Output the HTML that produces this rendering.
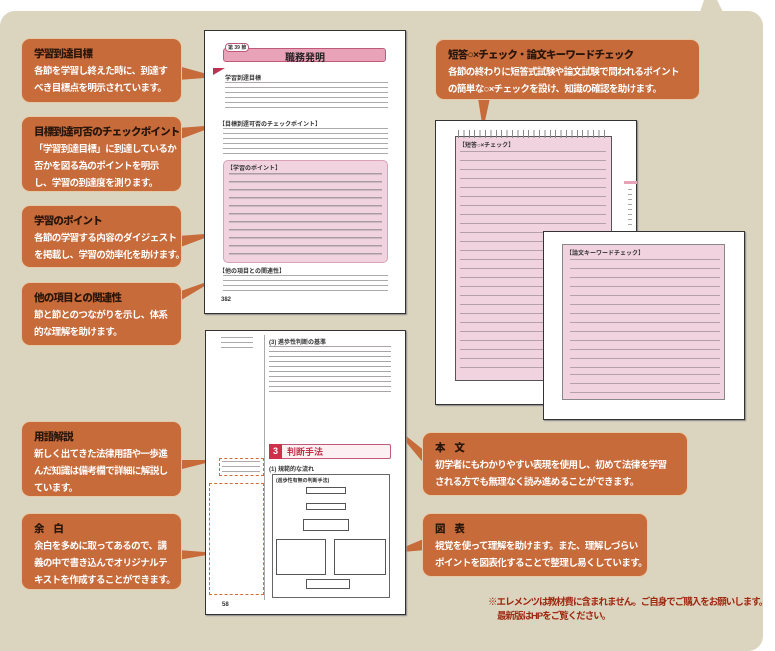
<!DOCTYPE html>
<html><head><meta charset="utf-8">
<style>
*{margin:0;padding:0;box-sizing:border-box}
body{width:775px;height:634px;position:relative;overflow:hidden;background:#fff;font-family:"Liberation Sans","Noto Sans CJK JP",sans-serif}
.panel{position:absolute;left:0;top:11px;width:763px;height:640px;background:#dbd5c0;border-radius:15px 15px 15px 0}
.box{position:absolute;background:#c76b3b;border-radius:9px;border:1px solid #e6c9a6;padding:8px 4px 0 12px;color:#fff;font-size:9.5px;letter-spacing:-0.6px;line-height:17px;font-weight:bold;white-space:nowrap;overflow:hidden}
.box b{display:block;color:#2a160a;font-size:10.5px;letter-spacing:-0.8px;line-height:15px;margin-bottom:1px}
.page{position:absolute;background:#fff;border:1px solid #333;box-shadow:1px 1px 1px #888}
.tx{position:absolute;background:repeating-linear-gradient(to bottom,#9a9595 0,#9a9595 1px,transparent 1px,transparent 5px);opacity:.8}
.txs{position:absolute;background:repeating-linear-gradient(to bottom,#8a8585 0,#8a8585 1.5px,transparent 1.5px,transparent 8px);opacity:.7}
.pink{position:absolute;background:#f1d3e0}
.dl{position:absolute;background:repeating-linear-gradient(to bottom,#9a8a90 0,#9a8a90 1px,transparent 1px,transparent 9px);opacity:.7}
.small{position:absolute;font-size:6px;font-weight:bold;color:#333;white-space:nowrap}
.note{position:absolute;color:#a02810;font-size:9.5px;font-weight:bold;letter-spacing:-1px;white-space:nowrap}
</style></head><body>
<div class="panel"></div>
<svg style="position:absolute;left:0;top:0" width="775" height="634">
<polygon points="700,12 704,0 717,0 723,12" fill="#dbd5c0"/>
<g fill="#c76b3b">
<polygon points="178,66 178,80 218,77"/>
<polygon points="178,128 178,140 218,125"/>
<polygon points="178,236 178,248 218,233"/>
<polygon points="178,292 178,302 218,278"/>
<polygon points="178,460 178,470 218,460"/>
<polygon points="178,550 178,560 218,553"/>
<polygon points="426,452 426,466 390,423"/>
<polygon points="426,538 426,550 390,553"/>
<polygon points="478,98 490,98 483,130"/>
</g>
</svg>

<!-- Page 1 -->
<div class="page" style="left:204px;top:30px;width:202px;height:284px">
  <div style="position:absolute;left:18px;top:17px;width:163px;height:14px;background:#e9a3b9;border:1px solid #c05a7a;border-radius:3px"></div>
  <div class="small" style="left:20px;top:12px;font-size:5px;background:#fff;border:1px solid #c05a7a;border-radius:4px;padding:0 2px">第 39 節</div>
  <div style="position:absolute;left:80px;top:18px;font-size:10px;font-weight:bold;color:#222">職務発明</div>
  <div style="position:absolute;left:8px;top:37px;width:0;height:0;border-left:12px solid #c03050;border-bottom:7px solid transparent"></div>
  <div class="small" style="left:20px;top:42px">学習到達目標</div>
  <div class="tx" style="left:20px;top:51px;width:163px;height:30px"></div>
  <div class="small" style="left:14px;top:88px">【目標到達可否のチェックポイント】</div>
  <div class="tx" style="left:18px;top:97px;width:165px;height:28px"></div>
  <div class="pink" style="left:18px;top:129px;width:165px;height:103px;border:1px solid #d9a3b6;border-radius:5px"></div>
  <div class="small" style="left:22px;top:132px">【学習のポイント】</div>
  <div class="txs" style="left:24px;top:142px;width:153px;height:86px"></div>
  <div class="small" style="left:14px;top:235px">【他の項目との関連性】</div>
  <div class="tx" style="left:18px;top:244px;width:165px;height:18px"></div>
  <div class="small" style="left:16px;top:266px">382</div>
</div>

<!-- Page 2 -->
<div class="page" style="left:205px;top:330px;width:201px;height:285px">
  <div class="tx" style="left:15px;top:6px;width:32px;height:12px"></div>
  <div style="position:absolute;left:58px;top:4px;width:1px;height:265px;background:#aaa"></div>
  <div class="small" style="left:63px;top:6px">(3) 進歩性判断の基準</div>
  <div class="tx" style="left:63px;top:15px;width:122px;height:50px;opacity:.85"></div>
  <div style="position:absolute;left:13px;top:127px;width:45px;height:18px;border:1px dashed #d36a3a"></div>
  <div class="tx" style="left:16px;top:130px;width:38px;height:12px"></div>
  <div style="position:absolute;left:3px;top:152px;width:55px;height:112px;border:1px dashed #d36a3a"></div>
  <div style="position:absolute;left:63px;top:113px;width:122px;height:15px;border:1px solid #c05a7a;border-radius:2px;background:#fdf0f3"></div>
  <div style="position:absolute;left:63px;top:113px;width:13px;height:15px;background:#d0304a;color:#fff;font-size:9px;font-weight:bold;text-align:center;line-height:15px">3</div>
  <div style="position:absolute;left:81px;top:114px;font-size:9px;font-weight:bold;color:#c0304a">判断手法</div>
  <div class="small" style="left:63px;top:133px">(1) 規範的な流れ</div>
  <div style="position:absolute;left:66px;top:143px;width:118px;height:124px;border:1px solid #666"></div>
  <div class="small" style="left:70px;top:146px;font-size:5px">(進歩性有無の判断手法)</div>
  <div style="position:absolute;left:100px;top:156px;width:40px;height:7px;border:1px solid #555"></div>
  <div style="position:absolute;left:100px;top:172px;width:40px;height:7px;border:1px solid #555"></div>
  <div style="position:absolute;left:97px;top:188px;width:46px;height:12px;border:1px solid #555"></div>
  <div style="position:absolute;left:70px;top:208px;width:50px;height:36px;border:1px solid #555"></div>
  <div style="position:absolute;left:128px;top:208px;width:52px;height:36px;border:1px solid #555"></div>
  <div style="position:absolute;left:100px;top:248px;width:44px;height:10px;border:1px solid #555"></div>
  <div class="small" style="left:16px;top:271px">58</div>
</div>

<!-- Right pages -->
<div class="page" style="left:435px;top:120px;width:202px;height:285px">
  <div class="pink" style="left:19px;top:15px;width:157px;height:245px;border:1px solid #555"></div>
  <div style="position:absolute;left:22px;top:9px;width:150px;height:8px;background:repeating-linear-gradient(to right,#888 0,#888 1px,transparent 1px,transparent 5.4px)"></div>
  <div class="small" style="left:23px;top:19px">【短答○×チェック】</div>
  <div class="dl" style="left:24px;top:30px;width:146px;height:225px"></div>
  <div style="position:absolute;left:188px;top:60px;width:13px;height:3px;background:#e9a3b9"></div>
  <div class="tx" style="left:192px;top:68px;width:4px;height:40px"></div>
</div>
<div class="page" style="left:543px;top:231px;width:202px;height:189px">
  <div class="pink" style="left:18px;top:12px;width:163px;height:156px;border:1px solid #888"></div>
  <div class="small" style="left:22px;top:16px">【論文キーワードチェック】</div>
  <div class="dl" style="left:26px;top:27px;width:150px;height:110px"></div>
  <div class="dl" style="left:26px;top:142px;width:150px;height:22px"></div>
</div>

<!-- Boxes -->
<div class="box" style="left:21px;top:38px;width:161px;height:65px"><b>学習到達目標</b>各節を学習し終えた時に、到達す<br>べき目標点を明示されています。</div>
<div class="box" style="left:21px;top:116px;width:161px;height:76px"><b>目標到達可否のチェックポイント</b>「学習到達目標」に到達しているか<br>否かを図る為のポイントを明示<br>し、学習の到達度を測ります。</div>
<div class="box" style="left:21px;top:205px;width:161px;height:63px"><b>学習のポイント</b>各節の学習する内容のダイジェスト<br>を掲載し、学習の効率化を助けます。</div>
<div class="box" style="left:21px;top:282px;width:161px;height:64px"><b>他の項目との関連性</b>節と節とのつながりを示し、体系<br>的な理解を助けます。</div>
<div class="box" style="left:21px;top:421px;width:161px;height:76px"><b>用語解説</b>新しく出てきた法律用語や一歩進<br>んだ知識は備考欄で詳細に解説し<br>ています。</div>
<div class="box" style="left:21px;top:513px;width:161px;height:77px"><b>余　白</b>余白を多めに取ってあるので、講<br>義の中で書き込んでオリジナルテ<br>キストを作成することができます。</div>
<div class="box" style="left:435px;top:39px;width:265px;height:61px"><b>短答○×チェック・論文キーワードチェック</b>各節の終わりに短答式試験や論文試験で問われるポイント<br>の簡単な○×チェックを設け、知識の確認を助けます。</div>
<div class="box" style="left:422px;top:432px;width:266px;height:64px"><b>本　文</b>初学者にもわかりやすい表現を使用し、初めて法律を学習<br>される方でも無理なく読み進めることができます。</div>
<div class="box" style="left:422px;top:513px;width:226px;height:64px"><b>図　表</b>視覚を使って理解を助けます。また、理解しづらい<br>ポイントを図表化することで整理し易くしています。</div>

<div class="note" style="left:488px;top:594px">※エレメンツは教材費に含まれません。ご自身でご購入をお願いします。</div>
<div class="note" style="left:497px;top:608px">最新版はHPをご覧ください。</div>
</body></html>
